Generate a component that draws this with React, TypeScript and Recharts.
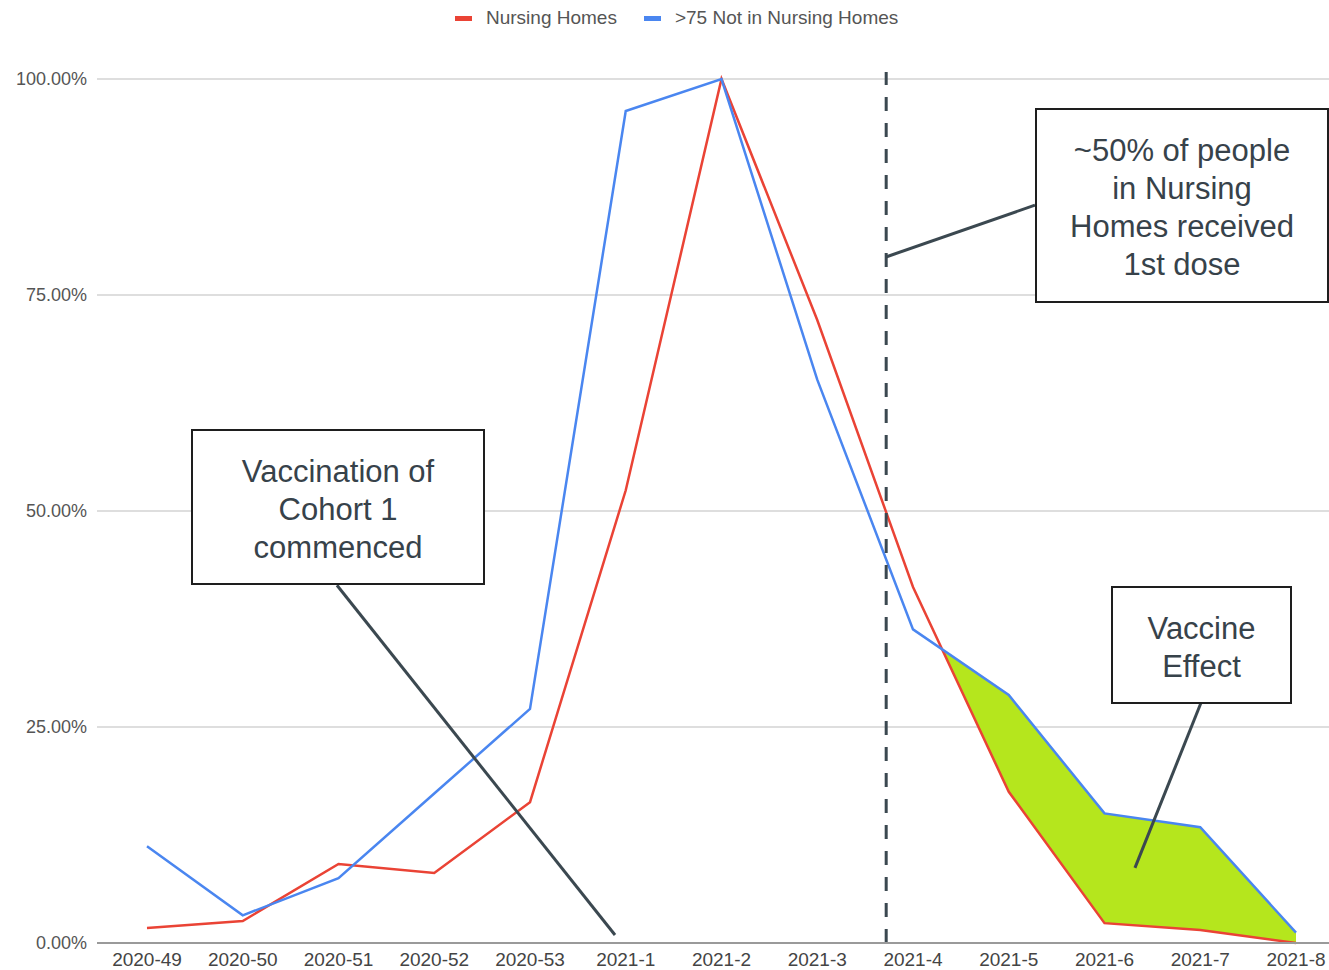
import React from 'react';
import {
  ComposedChart,
  Line,
  Area,
  XAxis,
  YAxis,
  CartesianGrid,
  ReferenceLine,
} from 'recharts';

const categories = [
  '2020-49', '2020-50', '2020-51', '2020-52', '2020-53',
  '2021-1', '2021-2', '2021-3', '2021-4', '2021-5', '2021-6', '2021-7', '2021-8',
];
const nursingHomes = [1.74, 2.55, 9.14, 8.1, 16.3, 52.4, 100, 72.1, 41.2, 17.5, 2.3, 1.5, 0];
const notInNursingHomes = [11.2, 3.2, 7.5, 17.3, 27.1, 96.3, 100, 65.2, 36.3, 28.7, 15.0, 13.4, 1.2];
const yTicks = [0, 25, 50, 75, 100];

// week index where the vaccine-effect gap opens (lines cross between this index and the next)
const effectFrom = 8;
// week position of the dashed "~50% first dose" marker (between 2021-3 and 2021-4)
const firstDoseMarker = 7.72;

const SERIES = [
  { key: 'nh', name: 'Nursing Homes', color: '#ea4335' },
  { key: 'nn', name: '>75 Not in Nursing Homes', color: '#4a86f0' },
];

const data = categories.map((c, i) => ({
  i,
  week: c,
  nh: nursingHomes[i],
  nn: notInNursingHomes[i],
}));

// region between the two lines, starting at their crossing
function buildEffect() {
  const a = effectFrom;
  const b = effectFrom + 1;
  const d0 = notInNursingHomes[a] - nursingHomes[a];
  const d1 = notInNursingHomes[b] - nursingHomes[b];
  const t = -d0 / (d1 - d0);
  const yc = nursingHomes[a] + t * (nursingHomes[b] - nursingHomes[a]);
  const pts: { i: number; range: [number, number] }[] = [{ i: a + t, range: [yc, yc] }];
  for (let k = b; k < categories.length; k++) {
    pts.push({ i: k, range: [nursingHomes[k], notInNursingHomes[k]] });
  }
  return pts;
}
const effectData = buildEffect();

const FONT = "'Liberation Sans', Arial, Helvetica, sans-serif";
const DARK = '#3b4850';

const boxStyle: React.CSSProperties = {
  position: 'absolute',
  border: '2px solid #1e1e1e',
  background: '#fff',
  boxSizing: 'border-box',
  display: 'flex',
  alignItems: 'center',
  justifyContent: 'center',
  textAlign: 'center',
  fontFamily: FONT,
  fontSize: 31,
  lineHeight: '38px',
  color: '#37424a',
  paddingTop: 5,
};

export default function App() {
  return (
    <div style={{ position: 'absolute', left: 0, top: 0, width: 1329, height: 970, background: '#fff' }}>
      <ComposedChart
        width={1329}
        height={970}
        data={data}
        margin={{ top: 79, right: 0, bottom: 0, left: 0 }}
      >
        <CartesianGrid vertical={false} stroke="#dedede" strokeWidth={2} />
        <XAxis
          dataKey="i"
          type="number"
          domain={[0, categories.length - 1]}
          ticks={categories.map((_, i) => i)}
          tickFormatter={(v: number) => categories[v] ?? ''}
          interval={0}
          padding={{ left: 50, right: 33 }}
          height={27}
          tickLine={false}
          tickMargin={4}
          axisLine={{ stroke: '#9a9a9a', strokeWidth: 2 }}
          tick={{ fill: '#444', fontSize: 19, fontFamily: FONT }}
        />
        <YAxis
          type="number"
          domain={[0, 100]}
          ticks={yTicks}
          tickFormatter={(v: number) => v.toFixed(2) + '%'}
          width={97}
          tickLine={false}
          axisLine={false}
          tickMargin={4}
          tick={{ fill: '#555', fontSize: 18, fontFamily: FONT }}
        />
        <Area
          data={effectData}
          dataKey="range"
          type="linear"
          stroke="none"
          fill="#b5e61d"
          fillOpacity={1}
          isAnimationActive={false}
          legendType="none"
          activeDot={false}
        />
        {SERIES.map((s) => (
          <Line
            key={s.key}
            dataKey={s.key}
            name={s.name}
            type="linear"
            stroke={s.color}
            strokeWidth={2.5}
            dot={false}
            activeDot={false}
            isAnimationActive={false}
          />
        ))}
        <ReferenceLine
          segment={[{ x: firstDoseMarker, y: 0 }, { x: firstDoseMarker, y: 100.8 }]}
          stroke={DARK}
          strokeWidth={3}
          strokeDasharray="14 12"
          ifOverflow="visible"
        />
        <ReferenceLine
          segment={[{ x: 1.984, y: 41.4 }, { x: 4.888, y: 0.93 }]}
          stroke={DARK}
          strokeWidth={3}
          ifOverflow="visible"
        />
        <ReferenceLine
          segment={[{ x: 9.274, y: 85.4 }, { x: 7.718, y: 79.4 }]}
          stroke={DARK}
          strokeWidth={3}
          ifOverflow="visible"
        />
        <ReferenceLine
          segment={[{ x: 11.008, y: 27.8 }, { x: 10.318, y: 8.7 }]}
          stroke={DARK}
          strokeWidth={3}
          ifOverflow="visible"
        />
      </ComposedChart>

      {/* legend */}
      <div
        style={{
          position: 'absolute',
          left: 455,
          top: 6,
          display: 'flex',
          alignItems: 'center',
          fontFamily: FONT,
          fontSize: 19,
          color: '#555',
          lineHeight: '24px',
          whiteSpace: 'nowrap',
        }}
      >
        {SERIES.map((s, idx) => (
          <div key={s.key} style={{ display: 'flex', alignItems: 'center', marginRight: idx === 0 ? 27 : 0 }}>
            <span style={{ display: 'inline-block', width: 17, height: 5, background: s.color, marginRight: 14 }} />
            <span>{s.name}</span>
          </div>
        ))}
      </div>

      {/* annotation boxes */}
      <div style={{ ...boxStyle, left: 191, top: 429, width: 294, height: 156 }}>
        <div>Vaccination of<br />Cohort 1<br />commenced</div>
      </div>
      <div style={{ ...boxStyle, left: 1035, top: 108, width: 294, height: 195 }}>
        <div>~50% of people<br />in Nursing<br />Homes received<br />1st dose</div>
      </div>
      <div style={{ ...boxStyle, left: 1111, top: 586, width: 181, height: 118 }}>
        <div>Vaccine<br />Effect</div>
      </div>
    </div>
  );
}
